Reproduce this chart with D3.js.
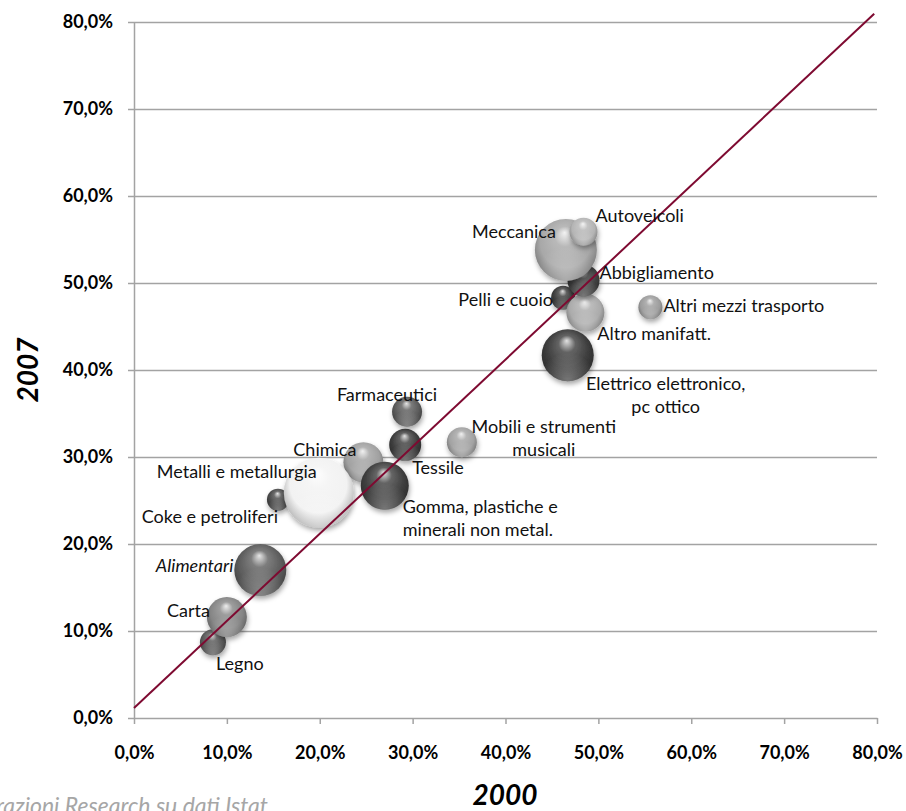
<!DOCTYPE html>
<html>
<head>
<meta charset="utf-8">
<script src="https://cdn.jsdelivr.net/npm/d3@7"></script>
<style>
  html, body { margin: 0; padding: 0; background: #fff; }
  svg { display: block; }
</style>
</head>
<body>
<div id="chart"></div>
<script>
// ---------------- DATA ----------------
const sectors = [
  "Chimica", "Gomma, plastiche e minerali non metal.", "Coke e petroliferi",
  "Metalli e metallurgia", "Legno", "Carta", "Alimentari", "Tessile",
  "Farmaceutici", "Mobili e strumenti musicali", "Pelli e cuoio",
  "Altro manifatt.", "Elettrico elettronico, pc ottico", "Abbigliamento",
  "Meccanica", "Autoveicoli", "Altri mezzi trasporto"
];
// share in 2000 (x) and 2007 (y), percent
const x2000 = [24.7, 27.0, 15.5, 19.9, 8.5, 10.0, 13.6, 29.2, 29.4, 35.3, 46.2, 48.6, 46.7, 48.4, 46.5, 48.4, 55.6];
const y2007 = [29.4, 26.7, 25.1, 25.9, 8.7, 11.6, 17.0, 31.4, 35.2, 31.7, 48.3, 46.6, 41.7, 50.3, 53.8, 55.9, 47.2];
// bubble size (relative weight)
const sizes = [400, 576, 121, 1225, 169, 400, 676, 256, 225, 225, 144, 361, 676, 256, 961, 196, 144];
// trend line
const trendX = [0, 79.7];
const trendY = [1.15, 80.95];
const tickValues = [0, 10, 20, 30, 40, 50, 60, 70, 80];

// ---------------- STYLE / LAYOUT ----------------
const baseColors = ["#a0a0a0", "#3e3e3e", "#484848", "#f2f2f2", "#585858", "#858585", "#5c5c5c", "#3c3c3c",
  "#5a5a5a", "#a2a2a2", "#3a3a3a", "#ababab", "#3c3c3c", "#404040", "#a8a8a8", "#b4b4b4", "#9c9c9c"];
// label offsets from bubble centre (px): [dx, dy of first line, anchor]
const labelLayout = [
  [-7, -13, "end"], [18, 21, "start"], [0, 17, "end"], [-2, -21, "end"],
  [3, 21, "start"], [-17, -6, "end"], [-27, -4, "end"], [7, 23, "start"],
  [-20, -17, "middle"], [82, -16, "middle"], [-10, 2, "end"], [12, 21, "start"],
  [98, 28, "middle"], [16, -8, "start"], [-10, -18, "end"], [12, -16, "start"], [13, -2, "start"]
];
const labelLines = {
  "Gomma, plastiche e minerali non metal.": ["Gomma, plastiche e", "minerali non metal."],
  "Mobili e strumenti musicali": ["Mobili e strumenti", "musicali"],
  "Elettrico elettronico, pc ottico": ["Elettrico elettronico,", "pc ottico"]
};

const W = 906, H = 811;
const FONT = "Lato, 'Open Sans', 'Liberation Sans', sans-serif";
const x = d3.scaleLinear().domain([0, 80]).range([134, 877]);
const y = d3.scaleLinear().domain([0, 80]).range([718, 22]);
const r = d3.scaleSqrt().domain([0, d3.max(sizes)]).range([0, 35]);
const fmt = d => d.toFixed(1).replace(".", ",") + "%";

const svg = d3.select("#chart").append("svg").attr("width", W).attr("height", H)
  .style("font-family", FONT);

const defs = svg.append("defs");
const shadow = defs.append("filter").attr("id", "shadow")
  .attr("x", "-40%").attr("y", "-40%").attr("width", "180%").attr("height", "180%");
shadow.append("feDropShadow").attr("dx", 1).attr("dy", 3).attr("stdDeviation", 2.5)
  .attr("flood-color", "#000").attr("flood-opacity", 0.35);

baseColors.forEach((c, i) => {
  const base = d3.color(c);
  const g = defs.append("radialGradient").attr("id", "grad" + i)
    .attr("cx", "50%").attr("cy", "45%").attr("r", "58%")
    .attr("fx", "48%").attr("fy", "22%");
  g.append("stop").attr("offset", "0%").attr("stop-color", d3.interpolateRgb(base, "#fff")(0.85));
  g.append("stop").attr("offset", "28%").attr("stop-color", d3.interpolateRgb(base, "#fff")(0.2));
  g.append("stop").attr("offset", "70%").attr("stop-color", base.formatHex());
  g.append("stop").attr("offset", "100%").attr("stop-color", base.darker(1).formatHex());
  const g2 = defs.append("radialGradient").attr("id", "rim" + i)
    .attr("cx", "50%").attr("cy", "100%").attr("r", "55%");
  g2.append("stop").attr("offset", "0%").attr("stop-color", "#fff").attr("stop-opacity", 0.35);
  g2.append("stop").attr("offset", "100%").attr("stop-color", "#fff").attr("stop-opacity", 0);
});

// gridlines
svg.append("g").attr("transform", `translate(${x(0)},0)`)
  .call(d3.axisLeft(y).tickValues(tickValues.slice(1)).tickSize(-(x(80) - x(0))).tickFormat(""))
  .call(g => g.select(".domain").remove())
  .call(g => g.selectAll("line").attr("stroke", "#a3a3a3").attr("stroke-width", 1.5));

// y axis
svg.append("g").attr("transform", `translate(${x(0)},0)`)
  .call(d3.axisLeft(y).tickValues(tickValues).tickSize(6).tickPadding(15).tickFormat(fmt).tickSizeOuter(0))
  .call(g => g.select(".domain").attr("stroke", "#a3a3a3").attr("stroke-width", 1.5))
  .call(g => g.selectAll("line").attr("stroke", "#a3a3a3").attr("stroke-width", 1.5))
  .call(g => g.selectAll("text").attr("font-size", 18).attr("font-weight", "bold").attr("fill", "#000")
    .style("font-family", FONT));

// x axis
svg.append("g").attr("transform", `translate(0,${y(0)})`)
  .call(d3.axisBottom(x).tickValues(tickValues).tickSize(6).tickPadding(22).tickFormat(fmt).tickSizeOuter(0))
  .call(g => g.select(".domain").attr("stroke", "#a3a3a3").attr("stroke-width", 1.5))
  .call(g => g.selectAll("line").attr("stroke", "#a3a3a3").attr("stroke-width", 1.5))
  .call(g => g.selectAll("text").attr("font-size", 18).attr("font-weight", "bold").attr("fill", "#000")
    .style("font-family", FONT));

// bubbles
const data = sectors.map((s, i) => ({ name: s, x: x2000[i], y: y2007[i], size: sizes[i], i }));
const bub = svg.append("g").selectAll("g").data(data).join("g")
  .attr("transform", d => `translate(${x(d.x)},${y(d.y)})`);
bub.append("circle").attr("r", d => r(d.size)).attr("fill", d => `url(#grad${d.i})`)
  .attr("filter", "url(#shadow)");
bub.append("circle").attr("r", d => r(d.size)).attr("fill", d => `url(#rim${d.i})`);

// trend line
svg.append("line")
  .attr("x1", x(trendX[0])).attr("y1", y(trendY[0]))
  .attr("x2", x(trendX[1])).attr("y2", y(trendY[1]))
  .attr("stroke", "#7e0a31").attr("stroke-width", 2);

// labels
const lab = svg.append("g").selectAll("text").data(data).join("text")
  .attr("font-size", 18).attr("fill", "#111")
  .attr("font-style", d => d.name === "Alimentari" ? "italic" : "normal")
  .attr("text-anchor", d => labelLayout[d.i][2]);
lab.each(function (d) {
  const [dx, dy] = labelLayout[d.i];
  const lines = labelLines[d.name] || [d.name];
  const t = d3.select(this);
  lines.forEach((ln, k) => {
    t.append("tspan")
      .attr("x", x(d.x) + dx)
      .attr("y", y(d.y) + dy + k * 23)
      .attr("dy", "0.35em")
      .text(ln);
  });
});

// axis titles
svg.append("text").attr("x", 505).attr("y", 805).attr("text-anchor", "middle")
  .attr("font-size", 28).attr("font-weight", "bold").attr("font-style", "italic").text("2000");
svg.append("text").attr("transform", "translate(38,370) rotate(-90)").attr("text-anchor", "middle")
  .attr("font-size", 28).attr("font-weight", "bold").attr("font-style", "italic").text("2007");

// source note (cropped at the edge like the original)
svg.append("text").attr("x", 268).attr("y", 814).attr("text-anchor", "end")
  .attr("font-size", 23).attr("font-style", "italic").attr("fill", "#a6a6a6")
  .text("Elaborazioni Research su dati Istat");
</script>
</body>
</html>
